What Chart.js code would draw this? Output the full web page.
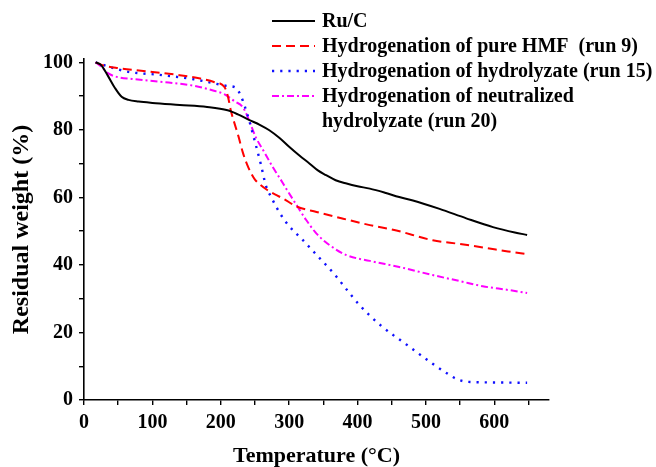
<!DOCTYPE html>
<html>
<head>
<meta charset="utf-8">
<script src="https://cdn.jsdelivr.net/npm/chart.js@4.4.1/dist/chart.umd.min.js"></script>
<style>
html,body{margin:0;padding:0;background:#fff;}
#wrap{position:relative;width:656px;height:467px;}
</style>
</head>
<body>
<div id="wrap"><canvas id="c" width="656" height="467"></canvas></div>
<script>
// Data
const seriesNames = ['Ru/C', 'Hydrogenation of pure HMF  (run 9)', 'Hydrogenation of hydrolyzate (run 15)', ['Hydrogenation of neutralized', 'hydrolyzate (run 20)']];

const ruT = [17,25,35,45,55,65,80,100,140,180,210,225,242,257,271,286,300,315,330,342,354,368,384,400,418,440,461,481,520,559,598,630,648];
const ruW = [100,99.2,96,92.5,89.8,88.9,88.4,88.0,87.4,86.8,85.8,84.6,82.9,81.5,79.9,77.6,75,72.4,70,68,66.6,65.1,64.1,63.3,62.6,61.4,60.1,59.1,56.6,53.8,51.2,49.6,48.9];

const hmfT = [17,30,50,90,140,170,190,205,209,212,215,220,226,232,238,244,250,258,268,280,291,310,340,379,418,457,510,550,589,620,648];
const hmfW = [100,99,98.3,97.4,96.2,95.2,94.2,92.8,91,88.5,85.5,82,78,73.5,70,67.3,65.3,63.7,62.2,60.8,59.7,57.4,55.7,53.7,51.8,50.2,47.3,46.2,45,44,43.2];

const hydT = [17,35,65,110,160,190,210,222,232,237,242,246,250,259,266,274,286,300,318,340,366,385,403,435,471,508,530,545,560,600,648];
const hydW = [100,98.8,97.2,96.3,95,93.8,93,92.5,88.8,85.8,82.5,79.5,76.5,69.5,63.5,60,55.5,51.5,47.8,43,37.3,32.5,28.1,21.9,16.5,11,8,6.2,5.4,5.2,5.1];

const neuT = [17,25,35,50,70,110,160,190,205,220,232,238,245,252,262,276,286,296,310,325,340,359,384,418,461,510,550,583,620,648];
const neuW = [100,98.8,96.8,95.6,95.1,94.3,93.1,91.6,90.6,88.5,86.8,84.5,80.9,77.5,74,69,65.8,62.5,58,53.3,49.3,45.9,42.9,41.2,39.4,37,35.2,33.7,32.6,31.7];

const xMajor = 100, xStep = 50, xMin = 0, xMax = 680;
const yMajor = 20, yStep = 10, yMin = 0, yMax = 101;

function pts(t, w){ return t.map((v,i)=>({x:v, y:w[i]})); }

const styles = [
  {color:'#000000', dash:[], width:2},
  {color:'#ff0000', dash:[9,5], width:2},
  {color:'#1010ff', dash:[2.2,6], width:2.4},
  {color:'#ff00ff', dash:[7,3,2,3], width:2}
];

const legendPlugin = {
  id:'customLegend',
  afterDraw(chart){
    const ctx = chart.ctx;
    ctx.save();
    ctx.font = 'bold 20px "Liberation Serif", "Times New Roman", serif';
    ctx.textBaseline = 'middle';
    ctx.fillStyle = '#000';
    const x0 = 272, x1 = 315, tx = 322;
    let y = 22;
    seriesNames.forEach((name, i) => {
      const s = styles[i];
      ctx.beginPath();
      ctx.strokeStyle = s.color;
      ctx.lineWidth = s.width;
      ctx.setLineDash(s.dash);
      ctx.moveTo(x0, y - 1);
      ctx.lineTo(x1, y - 1);
      ctx.stroke();
      ctx.setLineDash([]);
      const lines = Array.isArray(name) ? name : [name];
      lines.forEach((ln, j) => {
        ctx.fillText(ln, tx, y + j * 25);
      });
      y += 25 * lines.length;
    });
    ctx.restore();
  }
};

const datasets = [
  pts(ruT, ruW), pts(hmfT, hmfW), pts(hydT, hydW), pts(neuT, neuW)
].map((d, i) => ({
  label: Array.isArray(seriesNames[i]) ? seriesNames[i].join(' ') : seriesNames[i],
  data: d,
  borderColor: styles[i].color,
  borderWidth: styles[i].width,
  borderDash: styles[i].dash,
  pointRadius: 0,
  fill: false,
  cubicInterpolationMode: 'monotone',
  borderCapStyle: 'butt'
}));

const tickFont = {family:'"Liberation Serif", "Times New Roman", serif', size:20, weight:'bold'};

new Chart(document.getElementById('c'), {
  type: 'line',
  data: { datasets },
  plugins: [legendPlugin],
  options: {
    responsive: false,
    animation: false,
    layout: { padding: { left: 0, right: 107, top: 59, bottom: 0 } },
    plugins: { legend: { display: false }, tooltip: { enabled: false } },
    scales: {
      x: {
        type: 'linear', min: xMin, max: xMax,
        afterFit(scale){ scale.height = 67; },
        border: { display: true, color: '#000', width: 1.6 },
        grid: { drawOnChartArea: false, drawTicks: true, tickLength: 5, color: '#000', lineWidth: 1.4 },
        ticks: {
          stepSize: xStep, includeBounds: false, autoSkip: false, maxRotation: 0,
          color: '#000', font: tickFont, padding: 6,
          callback: v => (v % xMajor === 0 ? String(v) : '')
        },
        title: {
          display: true, text: 'Temperature (°C)', color: '#000',
          font: {family:'"Liberation Serif", "Times New Roman", serif', size:22, weight:'bold', lineHeight:1},
          padding: { top: 0, bottom: 0 }
        }
      },
      y: {
        type: 'linear', min: yMin, max: yMax,
        afterFit(scale){ scale.width = 84; },
        border: { display: true, color: '#000', width: 1.6 },
        grid: { drawOnChartArea: false, drawTicks: true, tickLength: 5, color: '#000', lineWidth: 1.4 },
        ticks: {
          stepSize: yStep, includeBounds: false, autoSkip: false,
          color: '#000', font: tickFont, padding: 6,
          callback: v => (v % yMajor === 0 ? String(v) : '')
        },
        title: {
          display: true, text: 'Residual weight (%)', color: '#000',
          font: {family:'"Liberation Serif", "Times New Roman", serif', size:24, weight:'bold', lineHeight:1},
          padding: { top: 10, bottom: 0 }
        }
      }
    }
  }
});
</script>
</body>
</html>
